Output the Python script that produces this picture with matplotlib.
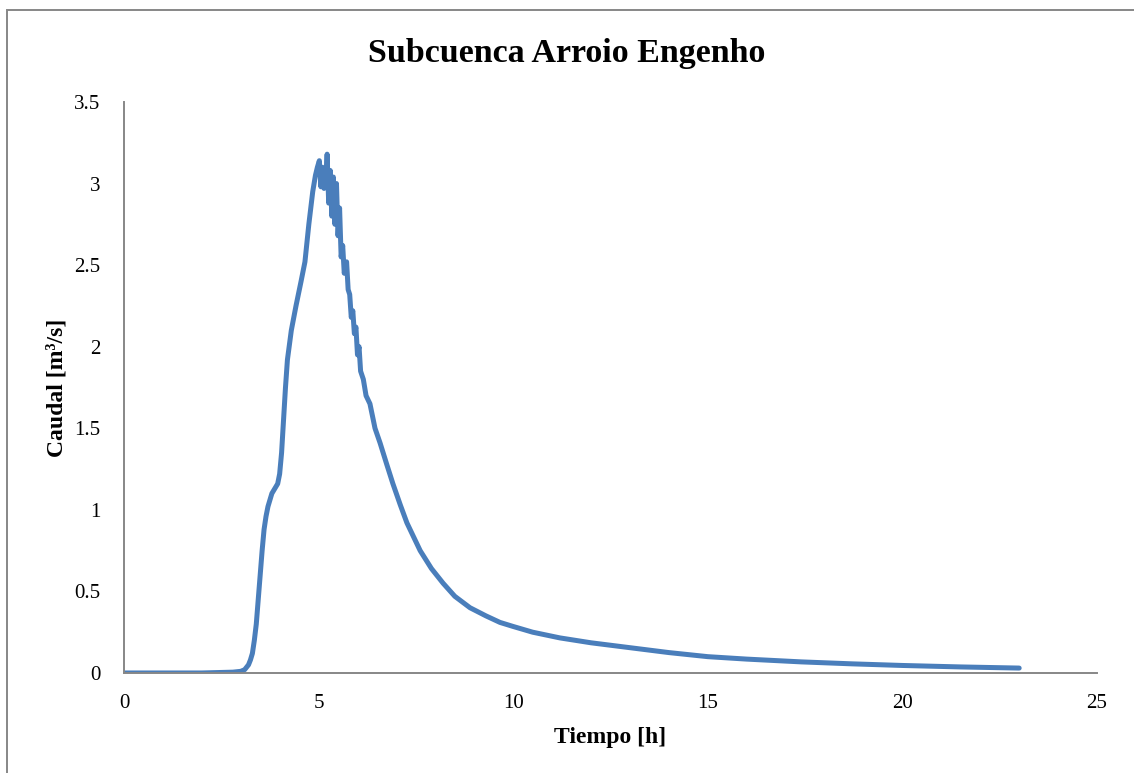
import matplotlib
matplotlib.use("Agg")
import matplotlib.pyplot as plt
from matplotlib.patches import Rectangle

# hydrograph: time [h], flow [m3/s]
tiempo = [0, 1, 2, 2.8, 3.0, 3.1, 3.2, 3.25, 3.3, 3.35, 3.4, 3.45, 3.5, 3.55,
          3.6, 3.65, 3.7, 3.8, 3.9, 3.95,
          4.0, 4.05, 4.1, 4.15, 4.2, 4.3, 4.42, 4.55, 4.65, 4.75, 4.85, 4.92,
          4.97, 5.02, 5.06, 5.10, 5.14, 5.18, 5.22, 5.26, 5.30, 5.34, 5.38,
          5.42, 5.46, 5.50, 5.54, 5.58, 5.62, 5.66, 5.72, 5.76, 5.80, 5.84,
          5.88, 5.92, 5.96, 6.00, 6.04, 6.08, 6.15, 6.22, 6.32, 6.45, 6.58,
          6.75, 6.91, 7.1, 7.27, 7.45, 7.61, 7.9, 8.2, 8.5, 8.89, 9.3, 9.66,
          10.0, 10.5, 11.2, 12.0, 13.0, 14.0, 15.0, 16.0, 17.4, 18.7, 20.0,
          21.5, 23.0]
caudal = [0, 0, 0, 0.005, 0.01, 0.02, 0.05, 0.08, 0.12, 0.2, 0.3, 0.45, 0.6,
          0.75, 0.88, 0.96, 1.02, 1.10, 1.14, 1.16,
          1.22, 1.35, 1.55, 1.75, 1.92, 2.10, 2.25, 2.40, 2.52,
          2.75, 2.95, 3.05, 3.10, 3.14, 2.98, 3.10, 2.97, 3.00, 3.18, 2.88,
          3.08, 2.80, 3.04, 2.75, 3.00, 2.68, 2.85, 2.55, 2.62, 2.45, 2.52,
          2.35, 2.32, 2.18, 2.22, 2.08, 2.12, 1.95, 2.00, 1.85, 1.80, 1.70,
          1.65, 1.50, 1.41, 1.28, 1.16, 1.03, 0.92, 0.83, 0.75, 0.64, 0.55,
          0.47, 0.40, 0.35, 0.31, 0.285, 0.25, 0.215, 0.185, 0.155, 0.125,
          0.10, 0.085, 0.068, 0.056, 0.046, 0.037, 0.03]

x_ticks = [0, 5, 10, 15, 20, 25]
y_ticks = [0, 0.5, 1, 1.5, 2, 2.5, 3, 3.5]
y_labels = ["0", "0.5", "1", "1.5", "2", "2.5", "3", "3.5"]

plt.rcParams["font.family"] = ["Liberation Serif", "DejaVu Serif"]
azul = "#4a7ebb"
gris = "#878787"

fig = plt.figure(figsize=(11.34, 7.73), dpi=100)
ax = fig.add_axes([0.1093, 0.1294, 0.8581, 0.7387])

ax.plot(tiempo, caudal, color=azul, lw=3.6, solid_capstyle="round",
        solid_joinstyle="round")

ax.set_xlim(0, 25)
ax.set_ylim(0, 3.5)
ax.set_xticks(x_ticks)
ax.set_xticklabels([str(t) for t in x_ticks])
ax.set_yticks(y_ticks)
ax.set_yticklabels(y_labels)
ax.tick_params(length=0, labelsize=15, colors="black")
ax.tick_params(axis="x", pad=15)
ax.tick_params(axis="y", pad=17)
for s in ["top", "right"]:
    ax.spines[s].set_visible(False)
for s in ["left", "bottom"]:
    ax.spines[s].set_color(gris)
    ax.spines[s].set_linewidth(1.4)

ax.set_xlabel("Tiempo [h]", fontsize=17, fontweight="bold")
ax.set_ylabel("Caudal [m³/s]", fontsize=17, fontweight="bold")
ax.xaxis.set_label_coords(0.5, -0.094)
ax.yaxis.set_label_coords(-0.058, 0.5)
fig.text(0.5, 0.931, "Subcuenca Arroio Engenho", ha="center", va="center",
         fontsize=24.5, fontweight="bold")

# chart area border
fig.patches.append(Rectangle((7 / 1134, -0.02), 1.1, 1 - 10 / 773 + 0.02,
                             transform=fig.transFigure, fill=False,
                             edgecolor=gris, lw=1.4))

fig.savefig("out.png", dpi=100)
